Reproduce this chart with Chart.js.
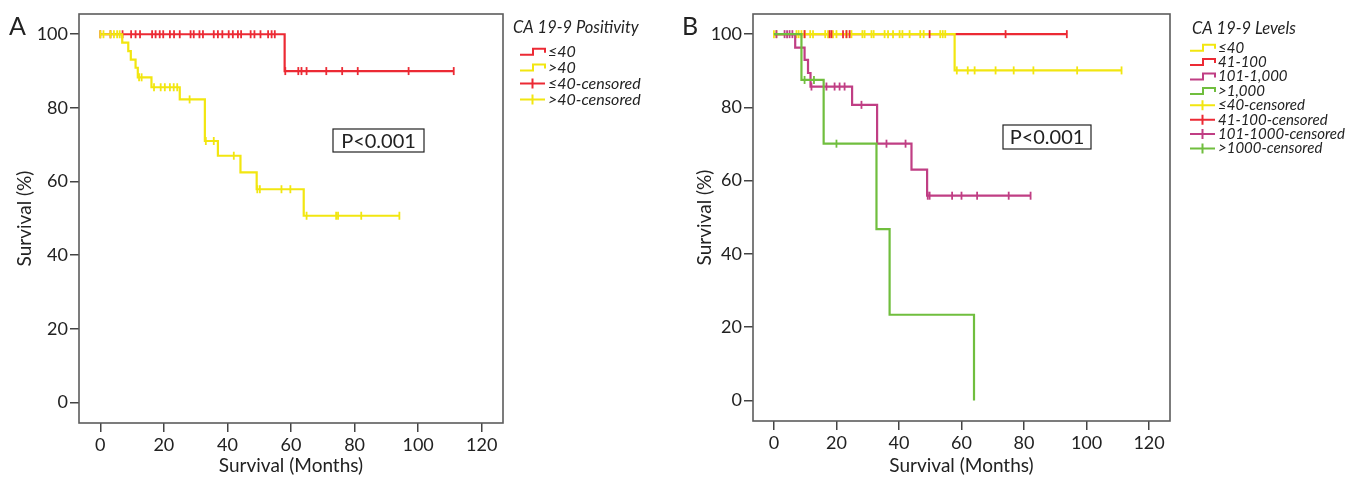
<!DOCTYPE html>
<html>
<head>
<meta charset="utf-8">
<script src="https://cdn.jsdelivr.net/npm/chart.js@4/dist/chart.umd.min.js"></script>
<style>
  body { margin: 0; background: #fff; }
  #wrap { position: relative; width: 1349px; height: 477px; }
  #chartA { position: absolute; left: 0; top: 0; }
  #chartB { position: absolute; left: 675px; top: 0; }
</style>
</head>
<body>
<div id="wrap">
  <canvas id="chartA" width="675" height="477"></canvas>
  <canvas id="chartB" width="674" height="477"></canvas>
</div>
<script>
// axis ticks
const xTicks = [0, 20, 40, 60, 80, 100, 120];
const yTicks = [0, 20, 40, 60, 80, 100];

// panel A : CA 19-9 positivity
const aLowStepMonths = [0, 58, 111.2];
const aLowStepSurv = [100, 90, 90];
const aLowCensMonths = [0, 3.2, 7, 9.7, 11.1, 12.5, 16.3, 17.4, 18.7, 19.8, 21.9, 23.2, 25, 28.4, 29.4,
  31.2, 32.3, 35.7, 37, 38.4, 40.4, 41.7, 43.3, 44.3, 47.3, 48.5, 50.4, 52.8, 53.9, 54.9,
  58.2, 62.3, 63.3, 64.9, 71.1, 76.1, 81, 97, 111.2];
const aHighStepMonths = [0, 6.9, 8.8, 9.6, 11.1, 11.8, 16.1, 25, 32.9, 37, 44.1, 49.2, 64, 94.1];
const aHighStepSurv = [100, 97.7, 95.4, 93.1, 90.9, 88.3, 85.6, 82.3, 71, 67, 62.5, 57.9, 50.7, 50.7];
const aHighCensMonths = [0, 1, 3.2, 4.3, 5.3, 6.1, 12.2, 13, 16.9, 19, 20.3, 21.9, 23.1, 24.2, 28.1,
  33.2, 35.7, 42, 49.4, 50.2, 57, 59.8, 64.9, 74.2, 74.8, 82.1, 94.1];

// panel B : CA 19-9 levels
const bLe40StepMonths = [0, 57.8, 111.2];
const bLe40StepSurv = [100, 90.1, 90.1];
const bLe40CensMonths = [0, 0.8, 7.2, 7.9, 8.8, 9.8, 11.6, 12.5, 16.4, 17.3, 18.9, 20, 23.2, 24.8, 28.3, 29,
  31.2, 31.9, 35.4, 36.5, 38.1, 40.2, 41.1, 43.4, 46.8, 47.9, 53.2, 54, 54.8,
  58.5, 62, 64.2, 70.9, 76.7, 83, 97, 111.2];
const b41StepMonths = [0, 93.7];
const b41StepSurv = [100, 100];
const b41CensMonths = [9.8, 17.8, 18.4, 22.1, 23.2, 24.2, 49.8, 74.1, 93.7];
const b101StepMonths = [0, 6.8, 9.8, 10.9, 11.7, 25, 33, 44, 49, 82.1];
const b101StepSurv = [100, 96.3, 93, 89.4, 85.7, 80.7, 70.1, 63, 55.9, 55.9];
const b101CensMonths = [0.8, 3.4, 4.2, 5, 5.9, 12, 16.8, 19.4, 21, 22.6, 28, 36, 42.1,
  49.2, 49.8, 57, 60, 65, 75.1, 82.1];
const b1000StepMonths = [0, 8.8, 15.9, 32.8, 37, 64];
const b1000StepSurv = [100, 87.5, 70.1, 46.8, 23.4, 0];
const b1000CensMonths = [9.8, 12.8, 20];

const RED = 'rgb(236,42,52)';
const YELLOW = 'rgb(242,230,16)';
const MAGENTA = 'rgb(192,62,132)';
const GREEN = 'rgb(112,190,62)';
const FONT = 'Lato, "Open Sans", sans-serif';

function survAt(months, surv, t) {
  let s = surv[0];
  for (let i = 0; i < months.length; i++) {
    if (months[i] <= t) s = surv[i];
  }
  return s;
}

function stepSet(months, surv, color) {
  return {
    data: months.map((m, i) => ({ x: m, y: surv[i] })),
    showLine: true, stepped: 'before',
    borderColor: color, borderWidth: 2.2,
    pointRadius: 0, pointHoverRadius: 0
  };
}

function censSet(cens, months, surv, color) {
  return {
    data: cens.map(t => ({ x: t, y: survAt(months, surv, t) })),
    showLine: false,
    pointStyle: 'line', rotation: 90,
    pointRadius: 4, borderColor: color, borderWidth: 1.8,
    pointBackgroundColor: color, pointBorderColor: color
  };
}

function drawLegend(ctx, tx, ix, y0, title, entries, gap, size, tsize, first) {
  ctx.save();
  ctx.fillStyle = '#222';
  ctx.textBaseline = 'middle';
  ctx.font = 'italic ' + tsize + 'px ' + FONT;
  ctx.fillText(title, tx, y0);
  ctx.font = 'italic ' + size + 'px ' + FONT;
  entries.forEach((e, i) => {
    const y = first + i * gap;
    ctx.strokeStyle = e.color;
    ctx.lineWidth = 2;
    ctx.beginPath();
    if (e.kind === 'step') {
      ctx.moveTo(ix, y + 3); ctx.lineTo(ix + 13, y + 3); ctx.lineTo(ix + 13, y - 3);
      ctx.lineTo(ix + 25, y - 3); ctx.lineTo(ix + 25, y + 1);
    } else {
      ctx.moveTo(ix, y); ctx.lineTo(ix + 25, y);
      ctx.moveTo(ix + 12.5, y - 5); ctx.lineTo(ix + 12.5, y + 5);
    }
    ctx.stroke();
    ctx.fillText(e.label, ix + 28, y);
  });
  ctx.restore();
}

function decor(id, letter, letterX, pBox, legend) {
  return {
    id: id,
    afterDraw(chart) {
      const ctx = chart.ctx;
      const a = chart.chartArea;
      ctx.save();
      ctx.strokeStyle = '#5c5c5c';
      ctx.lineWidth = 1.6;
      ctx.strokeRect(a.left, a.top, a.right - a.left, a.bottom - a.top);
      ctx.fillStyle = '#222';
      ctx.font = '25px ' + FONT;
      ctx.textBaseline = 'alphabetic';
      ctx.fillText(letter, letterX, 35);
      ctx.strokeStyle = '#222';
      ctx.lineWidth = 1.2;
      ctx.strokeRect(pBox[0], pBox[1], pBox[2], pBox[3]);
      ctx.font = '20px ' + FONT;
      ctx.textAlign = 'center';
      ctx.textBaseline = 'middle';
      ctx.fillText('P<0.001', pBox[0] + pBox[2] / 2, pBox[1] + pBox[3] / 2 + 1);
      ctx.restore();
      legend(ctx);
    }
  };
}

function axisOpts(min, max, ticks, title, fitFn) {
  return {
    type: 'linear', min: min, max: max,
    afterBuildTicks: s => { s.ticks = ticks.map(v => ({ value: v })); },
    afterFit: fitFn,
    grid: { display: true, drawOnChartArea: false, drawTicks: true, tickLength: 9, color: '#444', lineWidth: 1.5 },
    border: { display: false },
    ticks: { padding: 2, color: '#222', font: { family: FONT, size: 18 } },
    title: { display: true, text: title, color: '#222', font: { family: FONT, size: 19 }, padding: { top: 0, bottom: 0 } }
  };
}

function makeChart(canvasId, datasets, padLeft, yW, padRight, axisH, plugin) {
  return new Chart(document.getElementById(canvasId), {
    type: 'scatter',
    data: { datasets: datasets },
    options: {
      responsive: false, animation: false,
      layout: { padding: { left: padLeft, top: 14, right: padRight, bottom: 0 } },
      plugins: { legend: { display: false }, tooltip: { enabled: false } },
      scales: {
        x: axisOpts(-6.7, 126.7, xTicks, 'Survival (Months)', s => { s.height = axisH; }),
        y: axisOpts(-5.6, 105.5, yTicks, 'Survival (%)', s => { s.width = yW; })
      }
    },
    plugins: [plugin]
  });
}

// panel A (yellow drawn above red)
makeChart('chartA', [
  censSet(aHighCensMonths, aHighStepMonths, aHighStepSurv, YELLOW),
  stepSet(aHighStepMonths, aHighStepSurv, YELLOW),
  censSet(aLowCensMonths, aLowStepMonths, aLowStepSurv, RED),
  stepSet(aLowStepMonths, aLowStepSurv, RED)
], 13, 66, 172, 54, decor('decorA', 'A', 9, [333, 129, 91, 23], ctx => {
  drawLegend(ctx, 513, 520, 28, 'CA 19-9 Positivity', [
    { label: '≤40', color: RED, kind: 'step' },
    { label: '>40', color: YELLOW, kind: 'step' },
    { label: '≤40-censored', color: RED, kind: 'cens' },
    { label: '>40-censored', color: YELLOW, kind: 'cens' }
  ], 15.9, 16, 16.5, 51.7);
}));

// panel B
makeChart('chartB', [
  censSet(b1000CensMonths, b1000StepMonths, b1000StepSurv, GREEN),
  stepSet(b1000StepMonths, b1000StepSurv, GREEN),
  censSet(b101CensMonths, b101StepMonths, b101StepSurv, MAGENTA),
  stepSet(b101StepMonths, b101StepSurv, MAGENTA),
  censSet(b41CensMonths, b41StepMonths, b41StepSurv, RED),
  censSet(bLe40CensMonths, bLe40StepMonths, bLe40StepSurv, YELLOW),
  stepSet(bLe40StepMonths, bLe40StepSurv, YELLOW),
  stepSet(b41StepMonths, b41StepSurv, RED)
], 18, 60, 179, 56, decor('decorB', 'B', 7, [328, 125, 88, 24], ctx => {
  drawLegend(ctx, 517, 515, 29, 'CA 19-9 Levels', [
    { label: '≤40', color: YELLOW, kind: 'step' },
    { label: '41-100', color: RED, kind: 'step' },
    { label: '101-1,000', color: MAGENTA, kind: 'step' },
    { label: '>1,000', color: GREEN, kind: 'step' },
    { label: '≤40-censored', color: YELLOW, kind: 'cens' },
    { label: '41-100-censored', color: RED, kind: 'cens' },
    { label: '101-1000-censored', color: MAGENTA, kind: 'cens' },
    { label: '>1000-censored', color: GREEN, kind: 'cens' }
  ], 14.4, 15, 16.5, 47.7);
}));
</script>
</body>
</html>
